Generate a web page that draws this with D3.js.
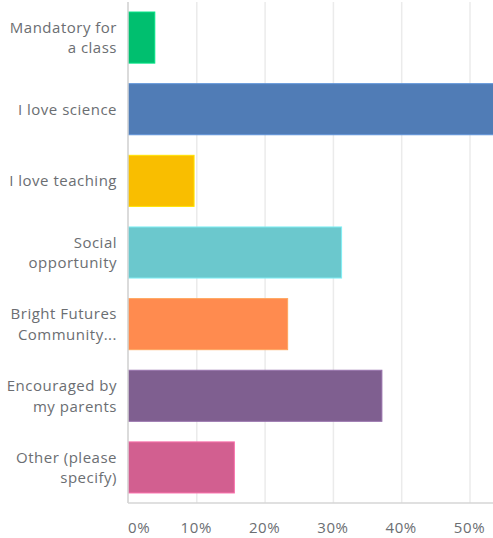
<!DOCTYPE html>
<head>
  <meta charset="utf-8">
  <script src="https://d3js.org/d3.v7.min.js"></script>
  <style>
    body { margin: 0; background: #fff; }
    .grid line { stroke: #ebebeb; stroke-width: 1.5px; }
    .grid path { display: none; }
    text { font-family: "Open Sans", sans-serif; fill: #6b6e72; }
  </style>
</head>
<body>
  <svg id="chart" width="493" height="538"></svg>
  <script>
    var categories = ["Mandatory for|a class", "I love science", "I love teaching", "Social|opportunity",
      "Bright Futures|Community...", "Encouraged by|my parents", "Other (please|specify)"];
    var values = [3.85, 57.7, 9.6, 31.2, 23.3, 37.1, 15.5];
    var colors = ["#00bf6f", "#507cb6", "#f9be00", "#6bc8cd", "#ff8b4f", "#7f5f90", "#d25f90"];
    var ticks = [0, 10, 20, 30, 40, 50];

    var svg = d3.select("#chart"),
      margin = { top: 2, left: 128, bottom: 35 },
      height = 538 - margin.top - margin.bottom;

    var x = d3.scaleLinear().domain([0, 50]).range([128, 469.5]);

    var y = d3.scaleBand()
      .domain(categories)
      .range([margin.top, margin.top + height])
      .paddingInner(0.287)
      .paddingOuter(0.14);

    svg.append("g")
      .attr("class", "grid")
      .attr("transform", "translate(0," + (margin.top + height) + ")")
      .call(d3.axisBottom(x).tickValues(ticks.slice(1)).tickSize(-height).tickFormat(""));

    svg.selectAll(".bar")
      .data(categories)
      .join("rect")
      .attr("class", "bar")
      .attr("x", x(0) + 0.5)
      .attr("y", d => y(d))
      .attr("height", y.bandwidth())
      .attr("width", (d, i) => x(values[i]) - x(0))
      .attr("fill", (d, i) => colors[i])
      .attr("stroke", (d, i) => d3.color(colors[i]).brighter(0.5))
      .attr("stroke-width", 1);

    // axis lines
    svg.append("line")
      .attr("x1", x(0)).attr("x2", x(0))
      .attr("y1", margin.top).attr("y2", margin.top + height)
      .attr("stroke", "#cfcfcf").attr("stroke-width", 1.5);
    svg.append("line")
      .attr("x1", x(0)).attr("x2", 493)
      .attr("y1", margin.top + height).attr("y2", margin.top + height)
      .attr("stroke", "#d6d6d6").attr("stroke-width", 1.5);

    // x tick labels (first one starts at the axis)
    svg.selectAll(".xlab")
      .data(ticks)
      .join("text")
      .attr("class", "xlab")
      .attr("x", d => x(d))
      .attr("y", 533)
      .attr("text-anchor", (d, i) => i === 0 ? "start" : "middle")
      .attr("font-size", 15)
      .attr("letter-spacing", 0.6)
      .text(d => d + "%");

    // category labels
    svg.selectAll(".ylab")
      .data(categories)
      .join("text")
      .attr("class", "ylab")
      .attr("text-anchor", "end")
      .attr("font-size", 15)
      .attr("letter-spacing", 0.5)
      .each(function (d) {
        var lines = d.split("|"),
          cy = y(d) + y.bandwidth() / 2,
          t = d3.select(this);
        lines.forEach((l, i) => {
          t.append("tspan")
            .attr("x", 117)
            .attr("y", cy + (i - (lines.length - 1) / 2) * 20.5 + 5.5)
            .text(l);
        });
      });
  </script>
</body>
